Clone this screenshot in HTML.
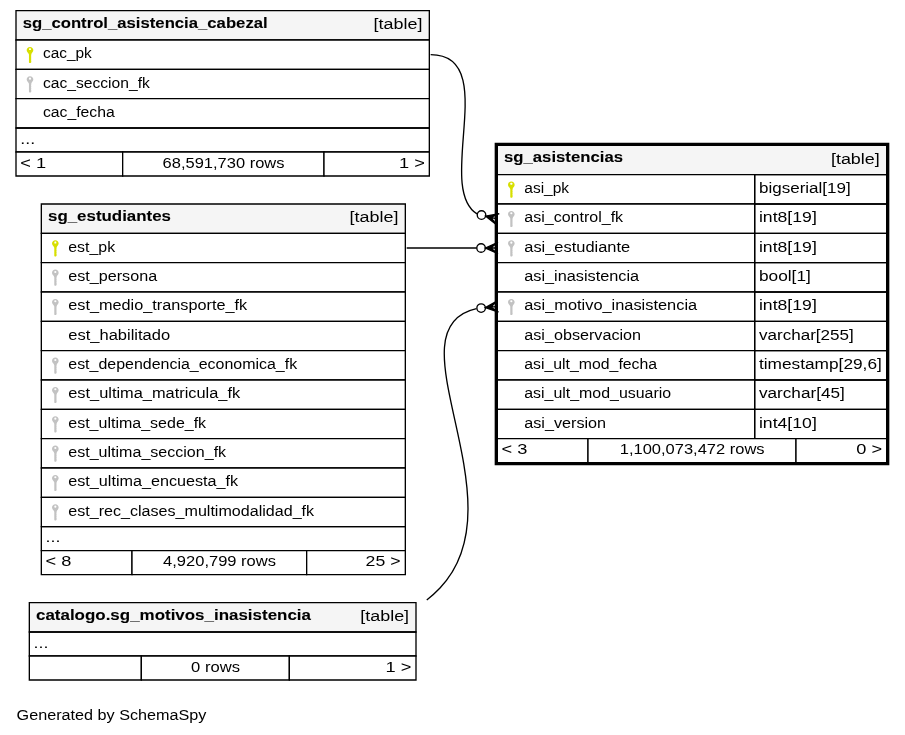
<!DOCTYPE html>
<html lang="es">
<head>
<meta charset="utf-8">
<title>sg_asistencias - one degree relationships diagram</title>
<style>
html,body{margin:0;padding:0;background:#ffffff;}
body{width:905px;height:735px;overflow:hidden;font-family:"Liberation Sans", sans-serif;}
svg{display:block;will-change:transform;}
svg text{font-family:"Liberation Sans", sans-serif;font-size:11.55px;fill:#000;white-space:pre;}
svg text[font-weight="bold"]{stroke:#000;stroke-width:0.06;}
</style>
</head>
<body>
<svg width="905" height="735" viewBox="0 0 678.75 551.25">
<g transform="translate(4 547)">
<polygon fill="#ffffff" stroke="none" points="-4,4 -4,-547 675,-547 675,4 -4,4"/>
<text x="8.45" y="-7.2" textLength="142.40" lengthAdjust="spacingAndGlyphs">Generated by SchemaSpy</text>
<g>
<polygon fill="#ffffff" stroke="none" points="367,-198 367,-440 663,-440 663,-198 367,-198"/>
<polygon fill="#f5f5f5" stroke="none" points="369,-416 369,-438 661,-438 661,-416 369,-416"/>
<polygon fill="none" stroke="black" points="369,-416 369,-438 661,-438 661,-416 369,-416"/>
<text x="374.00" y="-425.2" textLength="89.25" lengthAdjust="spacingAndGlyphs" font-weight="bold">sg_asistencias</text>
<text x="619.20" y="-424.2" textLength="36.65" lengthAdjust="spacingAndGlyphs">[table]</text>
<polygon fill="#ffffff" stroke="none" points="369,-394 369,-416 562,-416 562,-394 369,-394"/>
<polygon fill="none" stroke="black" points="369,-394 369,-416 562,-416 562,-394 369,-394"/>
<g transform="translate(379.50 -410.82) scale(0.75)"><path fill="#d7df00" d="M0 0C1.9 0 3.3 1.35 3.3 3.1C3.3 4.5 2.5 5.5 1.7 6.3L1.25 7.6L1.25 8.6L0.95 9L1.25 9.5L1.25 10.6L0.95 11L1.25 11.5L1.25 12.6L0.95 13L1.25 13.5L1.25 15.4L0.6 16.2L-0.6 16.2L-1.05 15.5L-1.05 7.6L-1.7 6.3C-2.5 5.5 -3.3 4.5 -3.3 3.1C-3.3 1.35 -1.9 0 0 0Z"/><rect x="-0.95" y="1.3" width="1.9" height="1.9" rx="0.5" fill="#fff"/></g>
<text x="389.20" y="-402.2" textLength="33.65" lengthAdjust="spacingAndGlyphs">asi_pk</text>
<polygon fill="none" stroke="black" points="562,-394 562,-416 661,-416 661,-394 562,-394"/>
<text x="565.20" y="-402.2" textLength="68.90" lengthAdjust="spacingAndGlyphs">bigserial[19]</text>
<polygon fill="#ffffff" stroke="none" points="369,-372 369,-394 562,-394 562,-372 369,-372"/>
<polygon fill="none" stroke="black" points="369,-372 369,-394 562,-394 562,-372 369,-372"/>
<g transform="translate(379.50 -388.82) scale(0.75)"><path fill="#c2c2c2" d="M0 0C1.9 0 3.3 1.35 3.3 3.1C3.3 4.5 2.5 5.5 1.7 6.3L1.25 7.6L1.25 8.6L0.95 9L1.25 9.5L1.25 10.6L0.95 11L1.25 11.5L1.25 12.6L0.95 13L1.25 13.5L1.25 15.4L0.6 16.2L-0.6 16.2L-1.05 15.5L-1.05 7.6L-1.7 6.3C-2.5 5.5 -3.3 4.5 -3.3 3.1C-3.3 1.35 -1.9 0 0 0Z"/><ellipse cx="0" cy="2.4" rx="1.1" ry="1.05" fill="#fff"/></g>
<text x="389.20" y="-380.2" textLength="74.15" lengthAdjust="spacingAndGlyphs">asi_control_fk</text>
<polygon fill="none" stroke="black" points="562,-372 562,-394 661,-394 661,-372 562,-372"/>
<text x="565.20" y="-380.2" textLength="43.40" lengthAdjust="spacingAndGlyphs">int8[19]</text>
<polygon fill="#ffffff" stroke="none" points="369,-350 369,-372 562,-372 562,-350 369,-350"/>
<polygon fill="none" stroke="black" points="369,-350 369,-372 562,-372 562,-350 369,-350"/>
<g transform="translate(379.50 -366.82) scale(0.75)"><path fill="#c2c2c2" d="M0 0C1.9 0 3.3 1.35 3.3 3.1C3.3 4.5 2.5 5.5 1.7 6.3L1.25 7.6L1.25 8.6L0.95 9L1.25 9.5L1.25 10.6L0.95 11L1.25 11.5L1.25 12.6L0.95 13L1.25 13.5L1.25 15.4L0.6 16.2L-0.6 16.2L-1.05 15.5L-1.05 7.6L-1.7 6.3C-2.5 5.5 -3.3 4.5 -3.3 3.1C-3.3 1.35 -1.9 0 0 0Z"/><ellipse cx="0" cy="2.4" rx="1.1" ry="1.05" fill="#fff"/></g>
<text x="389.20" y="-358.2" textLength="79.40" lengthAdjust="spacingAndGlyphs">asi_estudiante</text>
<polygon fill="none" stroke="black" points="562,-350 562,-372 661,-372 661,-350 562,-350"/>
<text x="565.20" y="-358.2" textLength="43.40" lengthAdjust="spacingAndGlyphs">int8[19]</text>
<polygon fill="#ffffff" stroke="none" points="369,-328 369,-350 562,-350 562,-328 369,-328"/>
<polygon fill="none" stroke="black" points="369,-328 369,-350 562,-350 562,-328 369,-328"/>
<text x="389.20" y="-336.2" textLength="86.15" lengthAdjust="spacingAndGlyphs">asi_inasistencia</text>
<polygon fill="none" stroke="black" points="562,-328 562,-350 661,-350 661,-328 562,-328"/>
<text x="565.20" y="-336.2" textLength="38.90" lengthAdjust="spacingAndGlyphs">bool[1]</text>
<polygon fill="#ffffff" stroke="none" points="369,-306 369,-328 562,-328 562,-306 369,-306"/>
<polygon fill="none" stroke="black" points="369,-306 369,-328 562,-328 562,-306 369,-306"/>
<g transform="translate(379.50 -322.82) scale(0.75)"><path fill="#c2c2c2" d="M0 0C1.9 0 3.3 1.35 3.3 3.1C3.3 4.5 2.5 5.5 1.7 6.3L1.25 7.6L1.25 8.6L0.95 9L1.25 9.5L1.25 10.6L0.95 11L1.25 11.5L1.25 12.6L0.95 13L1.25 13.5L1.25 15.4L0.6 16.2L-0.6 16.2L-1.05 15.5L-1.05 7.6L-1.7 6.3C-2.5 5.5 -3.3 4.5 -3.3 3.1C-3.3 1.35 -1.9 0 0 0Z"/><ellipse cx="0" cy="2.4" rx="1.1" ry="1.05" fill="#fff"/></g>
<text x="389.20" y="-314.2" textLength="129.65" lengthAdjust="spacingAndGlyphs">asi_motivo_inasistencia</text>
<polygon fill="none" stroke="black" points="562,-306 562,-328 661,-328 661,-306 562,-306"/>
<text x="565.20" y="-314.2" textLength="43.40" lengthAdjust="spacingAndGlyphs">int8[19]</text>
<polygon fill="#ffffff" stroke="none" points="369,-284 369,-306 562,-306 562,-284 369,-284"/>
<polygon fill="none" stroke="black" points="369,-284 369,-306 562,-306 562,-284 369,-284"/>
<text x="389.20" y="-292.2" textLength="87.65" lengthAdjust="spacingAndGlyphs">asi_observacion</text>
<polygon fill="none" stroke="black" points="562,-284 562,-306 661,-306 661,-284 562,-284"/>
<text x="565.20" y="-292.2" textLength="71.15" lengthAdjust="spacingAndGlyphs">varchar[255]</text>
<polygon fill="#ffffff" stroke="none" points="369,-262 369,-284 562,-284 562,-262 369,-262"/>
<polygon fill="none" stroke="black" points="369,-262 369,-284 562,-284 562,-262 369,-262"/>
<text x="389.20" y="-270.2" textLength="99.65" lengthAdjust="spacingAndGlyphs">asi_ult_mod_fecha</text>
<polygon fill="none" stroke="black" points="562,-262 562,-284 661,-284 661,-262 562,-262"/>
<text x="565.20" y="-270.2" textLength="92.15" lengthAdjust="spacingAndGlyphs">timestamp[29,6]</text>
<polygon fill="#ffffff" stroke="none" points="369,-240 369,-262 562,-262 562,-240 369,-240"/>
<polygon fill="none" stroke="black" points="369,-240 369,-262 562,-262 562,-240 369,-240"/>
<text x="389.20" y="-248.2" textLength="110.15" lengthAdjust="spacingAndGlyphs">asi_ult_mod_usuario</text>
<polygon fill="none" stroke="black" points="562,-240 562,-262 661,-262 661,-240 562,-240"/>
<text x="565.20" y="-248.2" textLength="64.40" lengthAdjust="spacingAndGlyphs">varchar[45]</text>
<polygon fill="#ffffff" stroke="none" points="369,-218 369,-240 562,-240 562,-218 369,-218"/>
<polygon fill="none" stroke="black" points="369,-218 369,-240 562,-240 562,-218 369,-218"/>
<text x="389.20" y="-226.2" textLength="61.40" lengthAdjust="spacingAndGlyphs">asi_version</text>
<polygon fill="none" stroke="black" points="562,-218 562,-240 661,-240 661,-218 562,-218"/>
<text x="565.20" y="-226.2" textLength="43.40" lengthAdjust="spacingAndGlyphs">int4[10]</text>
<polygon fill="#ffffff" stroke="none" points="369,-200 369,-218 437,-218 437,-200 369,-200"/>
<polygon fill="none" stroke="black" points="369,-200 369,-218 437,-218 437,-200 369,-200"/>
<text x="372.20" y="-206.2" textLength="19.40" lengthAdjust="spacingAndGlyphs">&lt; 3</text>
<polygon fill="#ffffff" stroke="none" points="437,-200 437,-218 593,-218 593,-200 437,-200"/>
<polygon fill="none" stroke="black" points="437,-200 437,-218 593,-218 593,-200 437,-200"/>
<text x="460.82" y="-206.2" textLength="108.65" lengthAdjust="spacingAndGlyphs">1,100,073,472 rows</text>
<polygon fill="#ffffff" stroke="none" points="593,-200 593,-218 661,-218 661,-200 593,-200"/>
<polygon fill="none" stroke="black" points="593,-200 593,-218 661,-218 661,-200 593,-200"/>
<text x="638.20" y="-206.2" textLength="19.40" lengthAdjust="spacingAndGlyphs">0 &gt;</text>
<polygon fill="none" stroke="black" stroke-width="2" points="368,-199 368,-439 662,-439 662,-199 368,-199"/>
</g>
<g>
<polygon fill="#ffffff" stroke="none" points="8,-415 8,-539 318,-539 318,-415 8,-415"/>
<polygon fill="#f5f5f5" stroke="none" points="8,-517 8,-539 318,-539 318,-517 8,-517"/>
<polygon fill="none" stroke="black" points="8,-517 8,-539 318,-539 318,-517 8,-517"/>
<text x="13.00" y="-526.2" textLength="183.75" lengthAdjust="spacingAndGlyphs" font-weight="bold">sg_control_asistencia_cabezal</text>
<text x="276.20" y="-525.2" textLength="36.65" lengthAdjust="spacingAndGlyphs">[table]</text>
<polygon fill="#ffffff" stroke="none" points="8,-495 8,-517 318,-517 318,-495 8,-495"/>
<polygon fill="none" stroke="black" points="8,-495 8,-517 318,-517 318,-495 8,-495"/>
<g transform="translate(18.50 -511.82) scale(0.75)"><path fill="#d7df00" d="M0 0C1.9 0 3.3 1.35 3.3 3.1C3.3 4.5 2.5 5.5 1.7 6.3L1.25 7.6L1.25 8.6L0.95 9L1.25 9.5L1.25 10.6L0.95 11L1.25 11.5L1.25 12.6L0.95 13L1.25 13.5L1.25 15.4L0.6 16.2L-0.6 16.2L-1.05 15.5L-1.05 7.6L-1.7 6.3C-2.5 5.5 -3.3 4.5 -3.3 3.1C-3.3 1.35 -1.9 0 0 0Z"/><rect x="-0.95" y="1.3" width="1.9" height="1.9" rx="0.5" fill="#fff"/></g>
<text x="28.20" y="-503.2" textLength="36.65" lengthAdjust="spacingAndGlyphs">cac_pk</text>
<polygon fill="#ffffff" stroke="none" points="8,-473 8,-495 318,-495 318,-473 8,-473"/>
<polygon fill="none" stroke="black" points="8,-473 8,-495 318,-495 318,-473 8,-473"/>
<g transform="translate(18.50 -489.82) scale(0.75)"><path fill="#c2c2c2" d="M0 0C1.9 0 3.3 1.35 3.3 3.1C3.3 4.5 2.5 5.5 1.7 6.3L1.25 7.6L1.25 8.6L0.95 9L1.25 9.5L1.25 10.6L0.95 11L1.25 11.5L1.25 12.6L0.95 13L1.25 13.5L1.25 15.4L0.6 16.2L-0.6 16.2L-1.05 15.5L-1.05 7.6L-1.7 6.3C-2.5 5.5 -3.3 4.5 -3.3 3.1C-3.3 1.35 -1.9 0 0 0Z"/><ellipse cx="0" cy="2.4" rx="1.1" ry="1.05" fill="#fff"/></g>
<text x="28.20" y="-481.2" textLength="80.15" lengthAdjust="spacingAndGlyphs">cac_seccion_fk</text>
<polygon fill="#ffffff" stroke="none" points="8,-451 8,-473 318,-473 318,-451 8,-451"/>
<polygon fill="none" stroke="black" points="8,-451 8,-473 318,-473 318,-451 8,-451"/>
<text x="28.20" y="-459.2" textLength="53.90" lengthAdjust="spacingAndGlyphs">cac_fecha</text>
<polygon fill="none" stroke="black" points="8,-433 8,-451 318,-451 318,-433 8,-433"/>
<text x="11.20" y="-439.2" textLength="11.15" lengthAdjust="spacingAndGlyphs">...</text>
<polygon fill="#ffffff" stroke="none" points="8,-415 8,-433 88,-433 88,-415 8,-415"/>
<polygon fill="none" stroke="black" points="8,-415 8,-433 88,-433 88,-415 8,-415"/>
<text x="11.20" y="-421.2" textLength="19.40" lengthAdjust="spacingAndGlyphs">&lt; 1</text>
<polygon fill="#ffffff" stroke="none" points="88,-415 88,-433 239,-433 239,-415 88,-415"/>
<polygon fill="none" stroke="black" points="88,-415 88,-433 239,-433 239,-415 88,-415"/>
<text x="117.95" y="-421.2" textLength="91.40" lengthAdjust="spacingAndGlyphs">68,591,730 rows</text>
<polygon fill="#ffffff" stroke="none" points="239,-415 239,-433 318,-433 318,-415 239,-415"/>
<polygon fill="none" stroke="black" points="239,-415 239,-433 318,-433 318,-415 239,-415"/>
<text x="295.20" y="-421.2" textLength="19.40" lengthAdjust="spacingAndGlyphs">1 &gt;</text>
</g>
<g>
<path fill="none" stroke="black" d="M353.75,-386.55C321.79,-406.72 371.87,-506 319,-506"/>
<polygon fill="black" stroke="black" points="360.24,-384.93 370.42,-386.77 364.12,-383.97 368.00,-383.00 368.00,-383.00 368.00,-383.00 364.12,-383.97 368.37,-378.53 360.24,-384.93 360.24,-384.93"/>
<ellipse fill="none" stroke="black" cx="357.13" cy="-385.71" rx="3.2" ry="3.2"/>
</g>
<g>
<polygon fill="#ffffff" stroke="none" points="26.5,-116 26.5,-394 299.5,-394 299.5,-116 26.5,-116"/>
<polygon fill="#f5f5f5" stroke="none" points="27,-372 27,-394 300,-394 300,-372 27,-372"/>
<polygon fill="none" stroke="black" points="27,-372 27,-394 300,-394 300,-372 27,-372"/>
<text x="32.00" y="-381.2" textLength="92.25" lengthAdjust="spacingAndGlyphs" font-weight="bold">sg_estudiantes</text>
<text x="258.20" y="-380.2" textLength="36.65" lengthAdjust="spacingAndGlyphs">[table]</text>
<polygon fill="#ffffff" stroke="none" points="27,-350 27,-372 300,-372 300,-350 27,-350"/>
<polygon fill="none" stroke="black" points="27,-350 27,-372 300,-372 300,-350 27,-350"/>
<g transform="translate(37.50 -366.82) scale(0.75)"><path fill="#d7df00" d="M0 0C1.9 0 3.3 1.35 3.3 3.1C3.3 4.5 2.5 5.5 1.7 6.3L1.25 7.6L1.25 8.6L0.95 9L1.25 9.5L1.25 10.6L0.95 11L1.25 11.5L1.25 12.6L0.95 13L1.25 13.5L1.25 15.4L0.6 16.2L-0.6 16.2L-1.05 15.5L-1.05 7.6L-1.7 6.3C-2.5 5.5 -3.3 4.5 -3.3 3.1C-3.3 1.35 -1.9 0 0 0Z"/><rect x="-0.95" y="1.3" width="1.9" height="1.9" rx="0.5" fill="#fff"/></g>
<text x="47.20" y="-358.2" textLength="35.15" lengthAdjust="spacingAndGlyphs">est_pk</text>
<polygon fill="#ffffff" stroke="none" points="27,-328 27,-350 300,-350 300,-328 27,-328"/>
<polygon fill="none" stroke="black" points="27,-328 27,-350 300,-350 300,-328 27,-328"/>
<g transform="translate(37.50 -344.82) scale(0.75)"><path fill="#c2c2c2" d="M0 0C1.9 0 3.3 1.35 3.3 3.1C3.3 4.5 2.5 5.5 1.7 6.3L1.25 7.6L1.25 8.6L0.95 9L1.25 9.5L1.25 10.6L0.95 11L1.25 11.5L1.25 12.6L0.95 13L1.25 13.5L1.25 15.4L0.6 16.2L-0.6 16.2L-1.05 15.5L-1.05 7.6L-1.7 6.3C-2.5 5.5 -3.3 4.5 -3.3 3.1C-3.3 1.35 -1.9 0 0 0Z"/><ellipse cx="0" cy="2.4" rx="1.1" ry="1.05" fill="#fff"/></g>
<text x="47.20" y="-336.2" textLength="66.65" lengthAdjust="spacingAndGlyphs">est_persona</text>
<polygon fill="#ffffff" stroke="none" points="27,-306 27,-328 300,-328 300,-306 27,-306"/>
<polygon fill="none" stroke="black" points="27,-306 27,-328 300,-328 300,-306 27,-306"/>
<g transform="translate(37.50 -322.82) scale(0.75)"><path fill="#c2c2c2" d="M0 0C1.9 0 3.3 1.35 3.3 3.1C3.3 4.5 2.5 5.5 1.7 6.3L1.25 7.6L1.25 8.6L0.95 9L1.25 9.5L1.25 10.6L0.95 11L1.25 11.5L1.25 12.6L0.95 13L1.25 13.5L1.25 15.4L0.6 16.2L-0.6 16.2L-1.05 15.5L-1.05 7.6L-1.7 6.3C-2.5 5.5 -3.3 4.5 -3.3 3.1C-3.3 1.35 -1.9 0 0 0Z"/><ellipse cx="0" cy="2.4" rx="1.1" ry="1.05" fill="#fff"/></g>
<text x="47.20" y="-314.2" textLength="134.15" lengthAdjust="spacingAndGlyphs">est_medio_transporte_fk</text>
<polygon fill="#ffffff" stroke="none" points="27,-284 27,-306 300,-306 300,-284 27,-284"/>
<polygon fill="none" stroke="black" points="27,-284 27,-306 300,-306 300,-284 27,-284"/>
<text x="47.20" y="-292.2" textLength="76.40" lengthAdjust="spacingAndGlyphs">est_habilitado</text>
<polygon fill="#ffffff" stroke="none" points="27,-262 27,-284 300,-284 300,-262 27,-262"/>
<polygon fill="none" stroke="black" points="27,-262 27,-284 300,-284 300,-262 27,-262"/>
<g transform="translate(37.50 -278.82) scale(0.75)"><path fill="#c2c2c2" d="M0 0C1.9 0 3.3 1.35 3.3 3.1C3.3 4.5 2.5 5.5 1.7 6.3L1.25 7.6L1.25 8.6L0.95 9L1.25 9.5L1.25 10.6L0.95 11L1.25 11.5L1.25 12.6L0.95 13L1.25 13.5L1.25 15.4L0.6 16.2L-0.6 16.2L-1.05 15.5L-1.05 7.6L-1.7 6.3C-2.5 5.5 -3.3 4.5 -3.3 3.1C-3.3 1.35 -1.9 0 0 0Z"/><ellipse cx="0" cy="2.4" rx="1.1" ry="1.05" fill="#fff"/></g>
<text x="47.20" y="-270.2" textLength="171.65" lengthAdjust="spacingAndGlyphs">est_dependencia_economica_fk</text>
<polygon fill="#ffffff" stroke="none" points="27,-240 27,-262 300,-262 300,-240 27,-240"/>
<polygon fill="none" stroke="black" points="27,-240 27,-262 300,-262 300,-240 27,-240"/>
<g transform="translate(37.50 -256.82) scale(0.75)"><path fill="#c2c2c2" d="M0 0C1.9 0 3.3 1.35 3.3 3.1C3.3 4.5 2.5 5.5 1.7 6.3L1.25 7.6L1.25 8.6L0.95 9L1.25 9.5L1.25 10.6L0.95 11L1.25 11.5L1.25 12.6L0.95 13L1.25 13.5L1.25 15.4L0.6 16.2L-0.6 16.2L-1.05 15.5L-1.05 7.6L-1.7 6.3C-2.5 5.5 -3.3 4.5 -3.3 3.1C-3.3 1.35 -1.9 0 0 0Z"/><ellipse cx="0" cy="2.4" rx="1.1" ry="1.05" fill="#fff"/></g>
<text x="47.20" y="-248.2" textLength="128.90" lengthAdjust="spacingAndGlyphs">est_ultima_matricula_fk</text>
<polygon fill="#ffffff" stroke="none" points="27,-218 27,-240 300,-240 300,-218 27,-218"/>
<polygon fill="none" stroke="black" points="27,-218 27,-240 300,-240 300,-218 27,-218"/>
<g transform="translate(37.50 -234.82) scale(0.75)"><path fill="#c2c2c2" d="M0 0C1.9 0 3.3 1.35 3.3 3.1C3.3 4.5 2.5 5.5 1.7 6.3L1.25 7.6L1.25 8.6L0.95 9L1.25 9.5L1.25 10.6L0.95 11L1.25 11.5L1.25 12.6L0.95 13L1.25 13.5L1.25 15.4L0.6 16.2L-0.6 16.2L-1.05 15.5L-1.05 7.6L-1.7 6.3C-2.5 5.5 -3.3 4.5 -3.3 3.1C-3.3 1.35 -1.9 0 0 0Z"/><ellipse cx="0" cy="2.4" rx="1.1" ry="1.05" fill="#fff"/></g>
<text x="47.20" y="-226.2" textLength="103.40" lengthAdjust="spacingAndGlyphs">est_ultima_sede_fk</text>
<polygon fill="#ffffff" stroke="none" points="27,-196 27,-218 300,-218 300,-196 27,-196"/>
<polygon fill="none" stroke="black" points="27,-196 27,-218 300,-218 300,-196 27,-196"/>
<g transform="translate(37.50 -212.82) scale(0.75)"><path fill="#c2c2c2" d="M0 0C1.9 0 3.3 1.35 3.3 3.1C3.3 4.5 2.5 5.5 1.7 6.3L1.25 7.6L1.25 8.6L0.95 9L1.25 9.5L1.25 10.6L0.95 11L1.25 11.5L1.25 12.6L0.95 13L1.25 13.5L1.25 15.4L0.6 16.2L-0.6 16.2L-1.05 15.5L-1.05 7.6L-1.7 6.3C-2.5 5.5 -3.3 4.5 -3.3 3.1C-3.3 1.35 -1.9 0 0 0Z"/><ellipse cx="0" cy="2.4" rx="1.1" ry="1.05" fill="#fff"/></g>
<text x="47.20" y="-204.2" textLength="118.40" lengthAdjust="spacingAndGlyphs">est_ultima_seccion_fk</text>
<polygon fill="#ffffff" stroke="none" points="27,-174 27,-196 300,-196 300,-174 27,-174"/>
<polygon fill="none" stroke="black" points="27,-174 27,-196 300,-196 300,-174 27,-174"/>
<g transform="translate(37.50 -190.82) scale(0.75)"><path fill="#c2c2c2" d="M0 0C1.9 0 3.3 1.35 3.3 3.1C3.3 4.5 2.5 5.5 1.7 6.3L1.25 7.6L1.25 8.6L0.95 9L1.25 9.5L1.25 10.6L0.95 11L1.25 11.5L1.25 12.6L0.95 13L1.25 13.5L1.25 15.4L0.6 16.2L-0.6 16.2L-1.05 15.5L-1.05 7.6L-1.7 6.3C-2.5 5.5 -3.3 4.5 -3.3 3.1C-3.3 1.35 -1.9 0 0 0Z"/><ellipse cx="0" cy="2.4" rx="1.1" ry="1.05" fill="#fff"/></g>
<text x="47.20" y="-182.2" textLength="127.40" lengthAdjust="spacingAndGlyphs">est_ultima_encuesta_fk</text>
<polygon fill="#ffffff" stroke="none" points="27,-152 27,-174 300,-174 300,-152 27,-152"/>
<polygon fill="none" stroke="black" points="27,-152 27,-174 300,-174 300,-152 27,-152"/>
<g transform="translate(37.50 -168.82) scale(0.75)"><path fill="#c2c2c2" d="M0 0C1.9 0 3.3 1.35 3.3 3.1C3.3 4.5 2.5 5.5 1.7 6.3L1.25 7.6L1.25 8.6L0.95 9L1.25 9.5L1.25 10.6L0.95 11L1.25 11.5L1.25 12.6L0.95 13L1.25 13.5L1.25 15.4L0.6 16.2L-0.6 16.2L-1.05 15.5L-1.05 7.6L-1.7 6.3C-2.5 5.5 -3.3 4.5 -3.3 3.1C-3.3 1.35 -1.9 0 0 0Z"/><ellipse cx="0" cy="2.4" rx="1.1" ry="1.05" fill="#fff"/></g>
<text x="47.20" y="-160.2" textLength="184.40" lengthAdjust="spacingAndGlyphs">est_rec_clases_multimodalidad_fk</text>
<polygon fill="none" stroke="black" points="27,-134 27,-152 300,-152 300,-134 27,-134"/>
<text x="30.20" y="-140.2" textLength="11.15" lengthAdjust="spacingAndGlyphs">...</text>
<polygon fill="#ffffff" stroke="none" points="27,-116 27,-134 95,-134 95,-116 27,-116"/>
<polygon fill="none" stroke="black" points="27,-116 27,-134 95,-134 95,-116 27,-116"/>
<text x="30.20" y="-122.2" textLength="19.40" lengthAdjust="spacingAndGlyphs">&lt; 8</text>
<polygon fill="#ffffff" stroke="none" points="95,-116 95,-134 226,-134 226,-116 95,-116"/>
<polygon fill="none" stroke="black" points="95,-116 95,-134 226,-134 226,-116 95,-116"/>
<text x="118.33" y="-122.2" textLength="84.65" lengthAdjust="spacingAndGlyphs">4,920,799 rows</text>
<polygon fill="#ffffff" stroke="none" points="226,-116 226,-134 300,-134 300,-116 226,-116"/>
<polygon fill="none" stroke="black" points="226,-116 226,-134 300,-134 300,-116 226,-116"/>
<text x="270.20" y="-122.2" textLength="26.15" lengthAdjust="spacingAndGlyphs">25 &gt;</text>
</g>
<g>
<path fill="none" stroke="black" d="M353.58,-361C334.74,-361 325.31,-361 301,-361"/>
<polygon fill="black" stroke="black" points="360.00,-361.00 369.44,-365.25 364.00,-361.00 368.00,-361.00 368.00,-361.00 368.00,-361.00 364.00,-361.00 369.44,-356.75 360.00,-361.00 360.00,-361.00"/>
<ellipse fill="none" stroke="black" cx="356.8" cy="-361" rx="3.2" ry="3.2"/>
</g>
<g>
<polygon fill="#ffffff" stroke="none" points="18,-37 18,-95 308,-95 308,-37 18,-37"/>
<polygon fill="#f5f5f5" stroke="none" points="18,-73 18,-95 308,-95 308,-73 18,-73"/>
<polygon fill="none" stroke="black" points="18,-73 18,-95 308,-95 308,-73 18,-73"/>
<text x="23.00" y="-82.2" textLength="206.25" lengthAdjust="spacingAndGlyphs" font-weight="bold">catalogo.sg_motivos_inasistencia</text>
<text x="266.20" y="-81.2" textLength="36.65" lengthAdjust="spacingAndGlyphs">[table]</text>
<polygon fill="none" stroke="black" points="18,-55 18,-73 308,-73 308,-55 18,-55"/>
<text x="21.20" y="-61.2" textLength="11.15" lengthAdjust="spacingAndGlyphs">...</text>
<polygon fill="#ffffff" stroke="none" points="18,-37 18,-55 102,-55 102,-37 18,-37"/>
<polygon fill="none" stroke="black" points="18,-37 18,-55 102,-55 102,-37 18,-37"/>
<polygon fill="#ffffff" stroke="none" points="102,-37 102,-55 213,-55 213,-37 102,-37"/>
<polygon fill="none" stroke="black" points="102,-37 102,-55 213,-55 213,-37 102,-37"/>
<text x="139.32" y="-43.2" textLength="36.65" lengthAdjust="spacingAndGlyphs">0 rows</text>
<polygon fill="#ffffff" stroke="none" points="213,-37 213,-55 308,-55 308,-37 213,-37"/>
<polygon fill="none" stroke="black" points="213,-37 213,-55 308,-55 308,-37 213,-37"/>
<text x="285.20" y="-43.2" textLength="19.40" lengthAdjust="spacingAndGlyphs">1 &gt;</text>
</g>
<g>
<path fill="none" stroke="black" d="M353.33,-315.58C285.77,-300.62 388.18,-171.08 326,-106 322.9,-102.75 319.58,-99.75 316.08,-96.98"/>
<polygon fill="black" stroke="black" points="360.04,-316.23 369.02,-321.36 364.02,-316.62 368.00,-317.00 368.00,-317.00 368.00,-317.00 364.02,-316.62 369.85,-312.91 360.04,-316.23 360.04,-316.23"/>
<ellipse fill="none" stroke="black" cx="356.85" cy="-315.92" rx="3.2" ry="3.2"/>
</g>
</g>
</svg>
</body>
</html>
